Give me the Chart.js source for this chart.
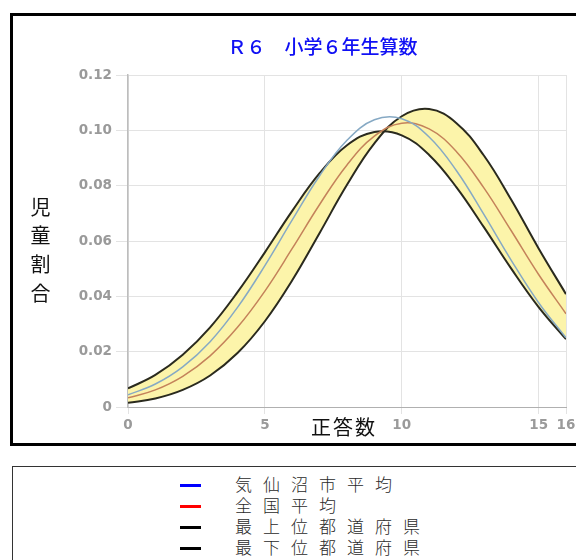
<!DOCTYPE html>
<html>
<head>
<meta charset="utf-8">
<script src="https://cdn.jsdelivr.net/npm/chart.js@4.4.1/dist/chart.umd.min.js"></script>
<style>
  html, body { margin: 0; padding: 0; background: #fff; overflow: hidden; width: 576px; height: 560px; }
  #frame { position: absolute; left: 10px; top: 13px; width: 600px; height: 427px; border: 3px solid #000; background: #fff; }
  #chartWrap { position: absolute; left: 0; top: 0; width: 566px; height: 427px; }
  #ytitle { position: absolute; left: 17px; top: 181px; font-family: "Noto Sans CJK JP", sans-serif; font-size: 20px; color: #111;
            writing-mode: vertical-rl; letter-spacing: 8.7px; line-height: 20px; }
  #xtitle { position: absolute; left: 298px; top: 397px; font-family: "Noto Sans CJK JP", sans-serif; font-size: 20px; color: #111;
            letter-spacing: 2px; line-height: 28px; }
  #legend { position: absolute; left: 12px; top: 466px; width: 600px; height: 200px; border: 1px solid #333; background: #fff; }
  .item { position: absolute; left: 0; height: 21px; }
  .sw { position: absolute; left: 167px; top: 9px; width: 21px; height: 3px; }
  .lt { position: absolute; left: 222px; top: -2px; font-family: "Noto Sans CJK JP", sans-serif; font-weight: 300; font-size: 17px; line-height: 21px;
        letter-spacing: 11px; color: #2a2a2a; white-space: nowrap; }
</style>
</head>
<body>
<div id="frame">
  <div id="chartWrap"><canvas id="c" width="566" height="427"></canvas></div>
  <div id="ytitle">児童割合</div>
  <div id="xtitle">正答数</div>
</div>
<div id="legend"></div>
<script>
// ---- data ----
const chartTitle = "Ｒ６　小学６年生算数";
const xTitle = "正答数";
const yTitle = "児童割合";
const answers = [0,1,2,3,4,5,6,7,8,9,10,11,12,13,14,15,16];
const seriesLabels = ["気仙沼市平均", "全国平均", "最上位都道府県", "最下位都道府県"];
const kesennuma = [0.0044,0.0083,0.0145,0.0236,0.0360,0.0511,0.0676,0.0836,0.0964,0.1038,0.1042,0.0976,0.0854,0.0696,0.0530,0.0377,0.0250];
const national  = [0.0033,0.0062,0.0111,0.0185,0.0288,0.0419,0.0573,0.0732,0.0875,0.0979,0.1026,0.1005,0.0923,0.0792,0.0637,0.0479,0.0337];
const topPref   = [0.0015,0.0031,0.0062,0.0114,0.0195,0.0310,0.0458,0.0629,0.0803,0.0953,0.1051,0.1077,0.1026,0.0909,0.0749,0.0573,0.0408];
const bottomPref= [0.0067,0.0116,0.0189,0.0288,0.0415,0.0559,0.0709,0.0845,0.0946,0.0994,0.0982,0.0911,0.0794,0.0650,0.0500,0.0361,0.0245];
const xMin = 0, xMax = 16, xStep = 5;
const yMin = 0, yMax = 0.12, yStep = 0.02;

// ---- styles ----
const lineColors = ["#86a9c4", "#c4825a", "#2a2a1e", "#2a2a1e"];
const legendColors = ["#0000ff", "#ff0000", "#000000", "#000000"];
const bandColor = "#fcf4aa";

const toPts = arr => arr.map((v, i) => ({ x: answers[i], y: v }));
const seriesValues = [kesennuma, national, topPref, bottomPref];

const datasets = seriesValues.map((vals, i) => ({
  label: seriesLabels[i],
  data: toPts(vals),
  borderColor: lineColors[i],
  borderWidth: i >= 2 ? 2 : 1.5,
  pointRadius: 0,
  tension: 0.4,
  fill: false,
  backgroundColor: "transparent"
}));
datasets[2].fill = "+1";
datasets[2].backgroundColor = bandColor;

const tickFont = { family: "DejaVu Sans", size: 13.5, weight: "bold" };

new Chart(document.getElementById("c"), {
  type: "line",
  data: { datasets },
  options: {
    responsive: false,
    animation: false,
    layout: { padding: { left: 66, right: 13, top: 0, bottom: 0 } },
    plugins: {
      legend: { display: false },
      tooltip: { enabled: false },
      filler: { drawTime: "beforeDatasetsDraw" },
      title: {
        display: true,
        text: chartTitle,
        color: "#1010f4",
        font: { family: "Noto Sans CJK JP", size: 19, weight: "500" },
        padding: { top: 19.6, bottom: 16.6 }
      }
    },
    scales: {
      x: {
        type: "linear",
        min: xMin, max: xMax,
        ticks: { stepSize: xStep, color: "#9a9a9a", font: tickFont, padding: 3, maxRotation: 0 },
        grid: { color: "#e3e3e3", tickLength: 7, lineWidth: 1 },
        border: { color: "#b0b0b0", width: 1 },
        afterFit: s => { s.height = 36; }
      },
      y: {
        min: yMin, max: yMax,
        ticks: {
          stepSize: yStep, color: "#9a9a9a", font: tickFont, padding: 4,
          callback: v => (Math.abs(v) < 1e-9 ? "0" : v.toFixed(2))
        },
        grid: { color: "#e3e3e3", tickLength: 12, lineWidth: 1 },
        border: { color: "#bdbdbd", width: 1.5 },
        afterFit: s => { s.width = 49; }
      }
    }
  }
});

// HTML legend (separate box, as in the reference)
const lg = document.getElementById("legend");
seriesLabels.forEach((lab, i) => {
  const it = document.createElement("div");
  it.className = "item";
  it.style.top = (8 + i * 21) + "px";
  const sw = document.createElement("div");
  sw.className = "sw";
  sw.style.background = legendColors[i];
  const tx = document.createElement("div");
  tx.className = "lt";
  tx.textContent = lab;
  it.appendChild(sw); it.appendChild(tx);
  lg.appendChild(it);
});
</script>
</body>
</html>
